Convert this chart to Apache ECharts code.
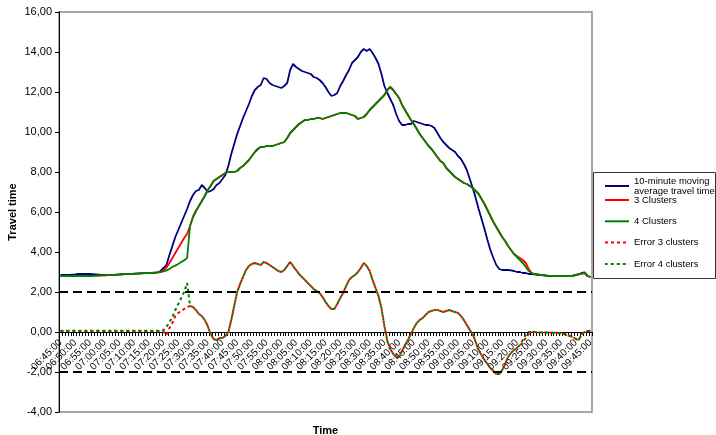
<!DOCTYPE html>
<html>
<head>
<meta charset="utf-8">
<script src="https://cdn.jsdelivr.net/npm/echarts@6/dist/echarts.min.js"></script>
<style>
  html, body { margin: 0; padding: 0; background: #fff; }
  #chart { width: 716px; height: 435px; }
</style>
</head>
<body>
<div id="chart"></div>
<script>
// Time axis: one category per minute, 06:45:00 to 09:45:00
const startTime = '06:45:00';
const minuteCount = 181;

// Measured 10-minute moving average travel time
const movingAverage = [
  2.85,2.85,2.86,2.86,2.87,2.88,2.9,2.9,2.91,2.9,
  2.9,2.89,2.88,2.87,2.86,2.85,2.85,2.85,2.86,2.87,
  2.88,2.89,2.9,2.9,2.91,2.92,2.92,2.93,2.93,2.94,
  2.95,2.95,2.96,2.98,3.05,3.2,3.35,3.85,4.3,4.75,
  5.1,5.45,5.8,6.15,6.55,6.85,7.05,7.1,7.35,7.2,
  7.0,7.05,7.15,7.35,7.45,7.65,7.85,8.3,8.9,9.4,
  9.9,10.3,10.7,11.05,11.4,11.8,12.1,12.25,12.35,12.7,
  12.65,12.45,12.35,12.3,12.25,12.2,12.3,12.45,13.1,13.4,
  13.25,13.15,13.05,13.0,12.95,12.9,12.75,12.7,12.6,12.45,
  12.25,12.0,11.8,11.85,11.95,12.3,12.55,12.85,13.1,13.45,
  13.6,13.75,14.0,14.15,14.05,14.15,13.95,13.7,13.4,12.9,
  12.3,11.95,11.65,11.35,10.9,10.55,10.35,10.35,10.4,10.4,
  10.55,10.5,10.45,10.4,10.35,10.35,10.3,10.2,9.95,9.7,
  9.5,9.35,9.2,9.1,9.0,8.8,8.65,8.4,8.1,7.65,
  7.2,6.7,6.15,5.65,5.15,4.6,4.1,3.7,3.35,3.15,
  3.1,3.1,3.1,3.08,3.05,3.0,3.0,2.95,2.95,2.9,
  2.9,2.88,2.86,2.85,2.83,2.82,2.8,2.8,2.8,2.8,
  2.8,2.8,2.8,2.8,2.82,2.85,2.9,2.95,2.98,2.8,2.75
];

// Estimate from the 3-cluster model
const threeClusters = [
  2.8,2.8,2.8,2.8,2.8,2.8,2.8,2.8,2.8,2.8,
  2.8,2.81,2.82,2.82,2.83,2.83,2.84,2.84,2.85,2.86,
  2.87,2.88,2.89,2.9,2.9,2.91,2.92,2.93,2.94,2.95,
  2.95,2.96,2.97,2.98,3.0,3.1,3.22,3.45,3.7,3.95,
  4.2,4.45,4.7,4.9,5.3,5.75,6.05,6.3,6.55,6.8,
  7.1,7.3,7.55,7.65,7.75,7.85,7.95,8.0,8.0,8.0,
  8.05,8.2,8.3,8.45,8.6,8.8,9.0,9.15,9.25,9.25,
  9.3,9.3,9.3,9.35,9.4,9.45,9.5,9.7,9.95,10.1,
  10.25,10.4,10.5,10.6,10.6,10.65,10.65,10.7,10.7,10.65,
  10.7,10.75,10.8,10.85,10.9,10.95,10.95,10.95,10.9,10.85,
  10.8,10.65,10.7,10.75,10.9,11.1,11.25,11.4,11.55,11.7,
  11.85,12.1,12.25,12.1,11.9,11.7,11.35,11.1,10.85,10.6,
  10.4,10.15,9.9,9.7,9.5,9.3,9.15,8.95,8.75,8.55,
  8.45,8.2,8.05,7.9,7.75,7.65,7.55,7.45,7.4,7.3,
  7.2,7.05,6.9,6.65,6.4,6.1,5.8,5.5,5.25,5.0,
  4.75,4.55,4.3,4.1,3.9,3.8,3.7,3.6,3.45,3.15,
  2.95,2.9,2.88,2.86,2.85,2.82,2.8,2.8,2.8,2.8,
  2.8,2.8,2.8,2.8,2.82,2.85,2.88,2.92,2.95,2.8,2.75
];

// Estimate from the 4-cluster model
const fourClusters = [
  2.8,2.8,2.8,2.8,2.8,2.8,2.8,2.8,2.8,2.8,
  2.8,2.81,2.82,2.82,2.83,2.83,2.84,2.84,2.85,2.86,
  2.87,2.88,2.89,2.9,2.9,2.91,2.92,2.93,2.94,2.95,
  2.95,2.96,2.97,2.98,3.0,3.03,3.08,3.15,3.25,3.32,
  3.4,3.5,3.58,3.7,5.3,5.75,6.05,6.3,6.55,6.8,
  7.1,7.3,7.55,7.65,7.75,7.85,7.95,8.0,8.0,8.0,
  8.05,8.2,8.3,8.45,8.6,8.8,9.0,9.15,9.25,9.25,
  9.3,9.3,9.3,9.35,9.4,9.45,9.5,9.7,9.95,10.1,
  10.25,10.4,10.5,10.6,10.6,10.65,10.65,10.7,10.7,10.65,
  10.7,10.75,10.8,10.85,10.9,10.95,10.95,10.95,10.9,10.85,
  10.8,10.65,10.7,10.75,10.9,11.1,11.25,11.4,11.55,11.7,
  11.85,12.1,12.25,12.1,11.9,11.7,11.35,11.1,10.85,10.6,
  10.4,10.15,9.9,9.7,9.5,9.3,9.15,8.95,8.75,8.55,
  8.45,8.2,8.05,7.9,7.75,7.65,7.55,7.45,7.4,7.3,
  7.2,7.05,6.9,6.65,6.4,6.1,5.8,5.5,5.25,5.0,
  4.75,4.55,4.3,4.1,3.9,3.75,3.6,3.45,3.25,3.05,
  2.95,2.9,2.88,2.86,2.85,2.82,2.8,2.8,2.8,2.8,
  2.8,2.8,2.8,2.8,2.82,2.85,2.88,2.92,2.95,2.8,2.75
];

// Error of the 3-cluster estimate
const errorThree = [
  0.05,0.05,0.05,0.05,0.05,0.05,0.05,0.05,0.05,0.05,
  0.05,0.05,0.05,0.05,0.05,0.05,0.05,0.05,0.05,0.05,
  0.05,0.05,0.05,0.05,0.05,0.05,0.05,0.05,0.05,0.05,
  0.05,0.05,0.05,0.05,0.05,0.02,-0.15,0.2,0.45,0.8,
  0.95,1.05,1.15,1.25,1.3,1.25,1.1,0.9,0.8,0.6,
  0.3,-0.1,-0.35,-0.4,-0.3,-0.3,-0.2,0.0,0.6,1.3,
  2.0,2.4,2.75,3.1,3.3,3.4,3.45,3.4,3.35,3.5,
  3.45,3.35,3.25,3.15,3.05,3.0,3.1,3.3,3.5,3.3,
  3.1,2.9,2.75,2.6,2.45,2.3,2.15,2.05,1.95,1.75,
  1.5,1.3,1.15,1.15,1.4,1.7,1.95,2.3,2.6,2.75,
  2.85,3.0,3.2,3.45,3.3,3.05,2.6,2.2,1.8,1.2,
  0.3,-0.45,-0.85,-1.1,-1.25,-1.25,-0.95,-0.65,-0.4,-0.1,
  0.2,0.45,0.6,0.7,0.85,1.0,1.05,1.1,1.1,1.05,
  1.0,1.05,1.1,1.05,1.0,0.95,0.8,0.6,0.35,0.1,
  -0.1,-0.5,-0.9,-1.15,-1.4,-1.6,-1.8,-1.95,-2.1,-2.1,
  -1.9,-1.6,-1.25,-1.05,-0.9,-0.8,-0.7,-0.5,-0.3,-0.1,
  0.0,0.0,-0.02,-0.02,-0.03,-0.03,-0.03,-0.04,-0.04,-0.05,
  -0.08,-0.1,-0.15,-0.2,-0.25,-0.35,-0.4,-0.1,0.0,0.05,0.05
];

// Error of the 4-cluster estimate
const errorFour = [
  0.06,0.06,0.06,0.06,0.06,0.06,0.06,0.06,0.06,0.06,
  0.06,0.06,0.06,0.06,0.06,0.06,0.06,0.06,0.06,0.06,
  0.06,0.06,0.06,0.06,0.06,0.06,0.06,0.06,0.06,0.06,
  0.06,0.06,0.06,0.06,0.05,0.1,0.25,0.5,0.75,1.1,
  1.4,1.7,2.0,2.45,1.3,1.25,1.1,0.9,0.8,0.6,
  0.3,-0.1,-0.35,-0.4,-0.3,-0.3,-0.2,0.0,0.6,1.3,
  2.0,2.4,2.75,3.1,3.3,3.4,3.45,3.4,3.35,3.5,
  3.45,3.35,3.25,3.15,3.05,3.0,3.1,3.3,3.5,3.3,
  3.1,2.9,2.75,2.6,2.45,2.3,2.15,2.05,1.95,1.75,
  1.5,1.3,1.15,1.15,1.4,1.7,1.95,2.3,2.6,2.75,
  2.85,3.0,3.2,3.45,3.3,3.05,2.6,2.2,1.8,1.2,
  0.3,-0.45,-0.85,-1.1,-1.25,-1.25,-0.95,-0.65,-0.4,-0.1,
  0.2,0.45,0.6,0.7,0.85,1.0,1.05,1.1,1.1,1.05,
  1.0,1.05,1.1,1.05,1.0,0.95,0.8,0.6,0.35,0.1,
  -0.1,-0.5,-0.9,-1.15,-1.4,-1.6,-1.8,-1.95,-2.1,-2.1,
  -1.9,-1.6,-1.25,-1.05,-0.9,-0.8,-0.65,-0.4,-0.15,0.0,
  0.0,0.0,-0.02,-0.02,-0.03,-0.03,-0.03,-0.04,-0.04,-0.05,
  -0.08,-0.1,-0.15,-0.2,-0.25,-0.35,-0.4,-0.1,0.0,0.05,0.05
];

// Error tolerance band
const toleranceLines = [2, -2];

// Y axis range and step
const yMin = -4, yMax = 16, yStep = 2;

const seriesNames = [
  '10-minute moving average travel time',
  '3 Clusters',
  '4 Clusters',
  'Error 3 clusters',
  'Error 4 clusters'
];

function pad2(n) { return (n < 10 ? '0' : '') + n; }
function buildTimes(start, count) {
  const p = start.split(':').map(Number);
  const base = p[0] * 60 + p[1];
  const out = [];
  for (let k = 0; k < count; k++) {
    const t = base + k;
    out.push(pad2(Math.floor(t / 60)) + ':' + pad2(t % 60) + ':00');
  }
  return out;
}
const times = buildTimes(startTime, minuteCount);

const FONT = 'Liberation Sans, Arial, sans-serif';

// Plot box in pixels
const GRID = { left: 59, right: 124, top: 12, bottom: 23 };
const plotHeight = 435 - GRID.top - GRID.bottom;
// The time axis sits on the zero line
const zeroOffset = -plotHeight * (0 - yMin) / (yMax - yMin);

const chart = echarts.init(document.getElementById('chart'), null, { renderer: 'canvas' });

function lineSeries(name, data, color, extra) {
  return Object.assign({
    name: name,
    type: 'line',
    data: data,
    symbol: 'none',
    smooth: false,
    lineStyle: { color: color, width: 1.8 },
    itemStyle: { color: color },
    emphasis: { disabled: true },
    z: 3
  }, extra || {});
}

const legendText = { fontFamily: FONT, fontSize: 9.5, color: '#000', lineHeight: 10 };

chart.setOption({
  animation: false,
  backgroundColor: '#ffffff',
  grid: {
    left: GRID.left, right: GRID.right, top: GRID.top, bottom: GRID.bottom,
    containLabel: false,
    outerBoundsMode: 'none',
    show: true,
    borderColor: '#8c8c8c',
    borderWidth: 1.5,
    backgroundColor: '#ffffff'
  },
  // legend frame
  graphic: [{
    type: 'rect',
    left: 593, top: 172,
    shape: { width: 122, height: 106 },
    style: { fill: '#ffffff', stroke: '#333333', lineWidth: 1 },
    z: 10, silent: true
  }],
  legend: [{
    orient: 'vertical',
    left: 604,
    top: 176,
    itemWidth: 24,
    itemHeight: 10,
    padding: 0,
    data: [seriesNames[0]],
    itemStyle: { opacity: 0 },
    formatter: function () { return '10-minute moving\naverage travel time'; },
    textStyle: legendText,
    z: 11
  }, {
    orient: 'vertical',
    left: 604,
    top: 195,
    itemWidth: 24,
    itemHeight: 10,
    itemGap: 11.3,
    padding: 0,
    data: seriesNames.slice(1),
    itemStyle: { opacity: 0 },
    textStyle: legendText,
    z: 11
  }],
  xAxis: {
    type: 'category',
    data: times,
    boundaryGap: true,
    offset: zeroOffset,
    name: 'Time',
    nameLocation: 'middle',
    nameGap: 93,
    nameTextStyle: { fontFamily: FONT, fontSize: 11, fontWeight: 'bold', color: '#000' },
    axisLine: { onZero: false, lineStyle: { color: '#000', width: 1 } },
    axisTick: { show: true, interval: 0, length: 4, lineStyle: { color: '#000' } },
    axisLabel: {
      interval: 4,
      rotate: 45,
      margin: 9,
      fontFamily: FONT,
      fontSize: 10,
      color: '#000'
    },
    splitLine: { show: false }
  },
  yAxis: {
    type: 'value',
    min: yMin,
    max: yMax,
    interval: yStep,
    name: 'Travel time',
    nameLocation: 'middle',
    nameGap: 41,
    nameMoveOverlap: false,
    nameTextStyle: { fontFamily: FONT, fontSize: 11, fontWeight: 'bold', color: '#000' },
    axisLine: { show: true, lineStyle: { color: '#000', width: 1 } },
    axisTick: { show: true, length: 4, lineStyle: { color: '#000' } },
    axisLabel: {
      fontFamily: FONT,
      fontSize: 11,
      color: '#000',
      margin: 7,
      formatter: function (v) { return v.toFixed(2).replace('.', ','); }
    },
    splitLine: { show: false }
  },
  series: [
    lineSeries(seriesNames[0], movingAverage, '#000080', {
      markLine: {
        silent: true,
        symbol: 'none',
        label: { show: false },
        lineStyle: { color: '#000', type: [9, 5], width: 2 },
        data: toleranceLines.map(function (v) { return { yAxis: v }; })
      }
    }),
    lineSeries(seriesNames[1], threeClusters, '#ff0000'),
    lineSeries(seriesNames[2], fourClusters, '#008000'),
    lineSeries(seriesNames[3], errorThree, '#ff0000', {
      lineStyle: { color: '#ff0000', width: 2, type: [3, 3] }
    }),
    lineSeries(seriesNames[4], errorFour, '#008000', {
      lineStyle: { color: '#008000', width: 2, type: [3, 3], dashOffset: 0.26 }
    })
  ]
});
</script>
</body>
</html>
